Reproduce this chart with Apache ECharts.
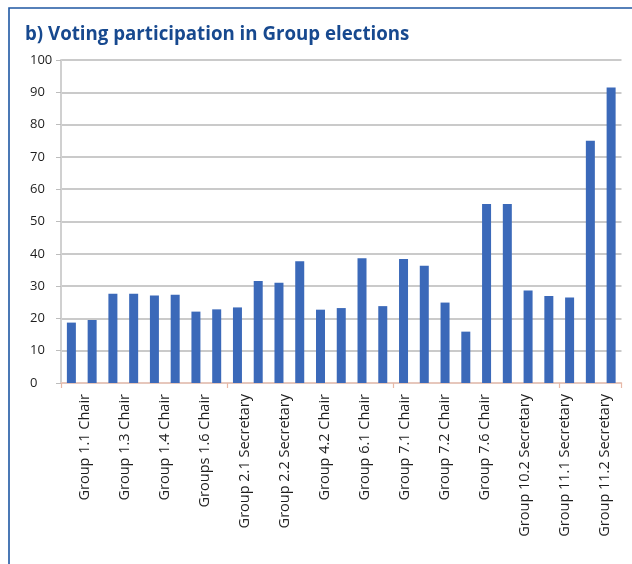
<!DOCTYPE html>
<html>
<head>
<meta charset="utf-8">
<script src="https://cdn.jsdelivr.net/npm/echarts@6/dist/echarts.min.js"></script>
<style>
html,body{margin:0;padding:0;background:#fff;}
#chart{width:632px;height:564px;}
</style>
</head>
<body>
<div id="chart"></div>
<script>
// Shown tick labels (every second category is labelled in the reference)
var tickLabels = [
  'Group 1.1 Chair', 'Group 1.3 Chair', 'Group 1.4 Chair', 'Groups 1.6 Chair',
  'Group 2.1 Secretary', 'Group 2.2 Secretary', 'Group 4.2 Chair', 'Group 6.1 Chair',
  'Group 7.1 Chair', 'Group 7.2 Chair', 'Group 7.6 Chair', 'Group 10.2 Secretary',
  'Group 11.1 Secretary', 'Group 11.2 Secretary'
];
// 27 categories; unlabelled ones (names not shown in the reference) are left blank
var categories = [];
for (var i = 0; i < tickLabels.length; i++) {
  categories.push(tickLabels[i]);
  if (i < tickLabels.length - 1) categories.push('');
}
var participation = [
  18.7, 19.5, 27.6, 27.6, 27.1, 27.3, 22.1, 22.8, 23.4, 31.6,
  31.0, 37.7, 22.7, 23.2, 38.6, 23.8, 38.4, 36.3, 24.9, 15.9,
  55.4, 55.4, 28.6, 26.9, 26.5, 75.0, 91.5
];
var yTicks = { min: 0, max: 100, interval: 10 };
var titleText = 'b) Voting participation in Group elections';

var chart = echarts.init(document.getElementById('chart'), null, { renderer: 'canvas' });
chart.setOption({
  animation: false,
  backgroundColor: '#ffffff',
  title: {
    text: titleText,
    left: 20,
    top: 20,
    textStyle: { fontFamily: 'Open Sans', fontWeight: 'bold', fontSize: 18.7, color: '#17498f' }
  },
  graphic: [{
    type: 'rect',
    shape: { x: 9, y: 8, width: 700, height: 700 },
    style: { fill: null, stroke: '#1f57a3', lineWidth: 1.6 },
    silent: true
  }],
  grid: [
    { left: 61, right: 10.5, top: 60, bottom: 181 },
    { left: 65, right: 7, top: 60, bottom: 181 }
  ],
  xAxis: [{
    type: 'category',
    gridIndex: 0,
    data: categories,
    axisLine: { lineStyle: { color: '#efc6b8', width: 1.5 } },
    axisTick: { show: true, length: 5, lineStyle: { color: '#e8b8a6', width: 1.2 } },
    axisLabel: { show: false }
  }, {
    type: 'category',
    gridIndex: 1,
    data: tickLabels,
    axisLine: { show: false },
    axisTick: { show: false },
    axisLabel: {
      rotate: 90,
      margin: 11,
      interval: 0,
      fontFamily: 'Open Sans',
      fontSize: 14.5,
      color: '#1e1e1e'
    }
  }],
  yAxis: [{
    type: 'value',
    gridIndex: 0,
    min: yTicks.min,
    max: yTicks.max,
    interval: yTicks.interval,
    axisLine: { show: true, lineStyle: { color: '#d0d0d0', width: 2 } },
    axisTick: { show: true, length: 5, lineStyle: { color: '#bdbdbd' } },
    splitLine: { lineStyle: { color: '#b9b9b9', width: 1.5 } },
    axisLabel: {
      align: 'left',
      margin: 31,
      fontFamily: 'Open Sans',
      fontSize: 13,
      color: '#1e1e1e'
    }
  }, {
    type: 'value',
    gridIndex: 1,
    show: false,
    min: 0, max: 100
  }],
  series: [{
    type: 'bar',
    xAxisIndex: 0,
    yAxisIndex: 0,
    data: participation,
    barWidth: 9,
    itemStyle: { color: '#3b69b9' }
  }]
});
</script>
</body>
</html>
